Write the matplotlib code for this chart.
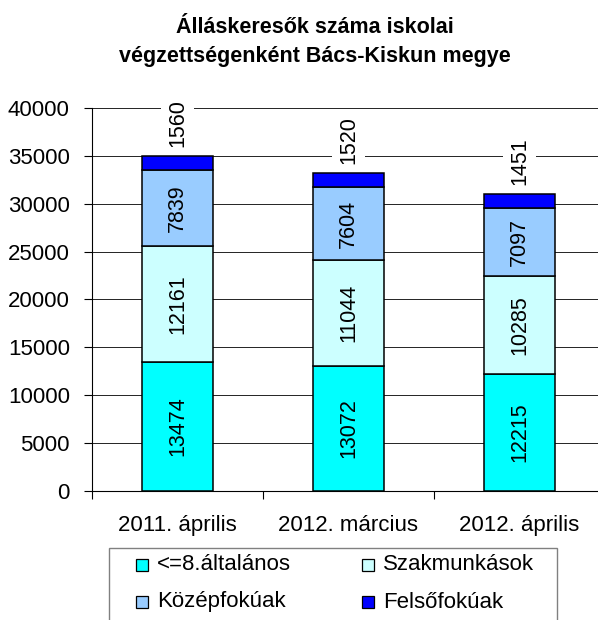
import matplotlib
matplotlib.use("Agg")
import matplotlib.pyplot as plt
from matplotlib.patches import Rectangle
import numpy as np

plt.rcParams['font.family'] = ['Liberation Sans', 'DejaVu Sans']

title_lines = ["Álláskeresők száma iskolai", "végzettségenként Bács-Kiskun megye"]
categories = ["2011. április", "2012. március", "2012. április"]
series_names = ["<=8.általános", "Szakmunkások", "Középfokúak", "Felsőfokúak"]
altalanos = [13474, 13072, 12215]
szakmunkasok = [12161, 11044, 10285]
kozepfokuak = [7839, 7604, 7097]
felsofokuak = [1560, 1520, 1451]
colors = ["#00FFFF", "#CCFFFF", "#99CCFF", "#0000FF"]
yticks = [0, 5000, 10000, 15000, 20000, 25000, 30000, 35000, 40000]

W, H = 598, 620
fig = plt.figure(figsize=(W / 100, H / 100), dpi=100)
ax = fig.add_axes([92 / W, (H - 491) / H, 513 / W, (491 - 108) / H])

x = np.arange(len(categories))
data = [altalanos, szakmunkasok, kozepfokuak, felsofokuak]
bottom = np.zeros(len(categories))
for i, (vals, col) in enumerate(zip(data, colors)):
    vals = np.array(vals, dtype=float)
    ax.bar(x, vals, 0.42, bottom=bottom, color=col, edgecolor="black",
           linewidth=1.1, zorder=3)
    for xi, b, v in zip(x, bottom, vals):
        if i < 3:
            ax.text(xi, b + v / 2, f"{int(v)}", rotation=90, ha="center",
                    va="center", fontsize=15.5, zorder=4)
        else:
            ax.annotate(f"{int(v)}", xy=(xi, b + v), xytext=(0, 6),
                        textcoords="offset points", rotation=90, ha="center",
                        va="bottom", fontsize=15.5, zorder=4,
                        bbox=dict(boxstyle="square,pad=0.3", fc="white", ec="none"))
    bottom += vals

ax.set_xlim(-0.5, 2.5)
ax.set_ylim(0, 40000)
ax.set_yticks(yticks)
ax.set_yticklabels([str(t) for t in yticks], fontsize=16)
ax.set_xticks([-0.5, 0.5, 1.5, 2.5])
ax.set_xticklabels([])
ax.set_xticks(x, minor=True)
ax.set_xticklabels(categories, minor=True, fontsize=16)
ax.tick_params(axis="x", which="minor", length=0, pad=17)
ax.tick_params(axis="x", which="major", length=6, width=0.8, direction="out")
ax.tick_params(axis="y", length=6, width=0.8, direction="out", pad=10)
ax.yaxis.grid(True, color="black", linewidth=0.6, zorder=0)
ax.set_axisbelow(True)
for s in ["top", "right"]:
    ax.spines[s].set_visible(False)
for s in ["left", "bottom"]:
    ax.spines[s].set_linewidth(0.8)
    ax.spines[s].set_color("black")

for line, yb in zip(title_lines, [33, 62]):
    fig.text(315 / W, 1 - yb / H, line, ha="center", va="baseline",
             fontsize=15.5, fontweight="bold")

# legend (manual, row-wise like the reference)
lx0, ly0, lx1, ly1 = 109, 548, 557, 640
fig.patches.append(Rectangle((lx0 / W, 1 - ly1 / H), (lx1 - lx0) / W, (ly1 - ly0) / H,
                             transform=fig.transFigure, fill=False,
                             edgecolor="#808080", linewidth=1.0))
pos = [(136, 565), (362, 565), (136, 602), (362, 602)]
for name, col, (px, py) in zip(series_names, colors, pos):
    s = 12
    fig.patches.append(Rectangle((px / W, 1 - (py + s / 2) / H), s / W, s / H,
                                 transform=fig.transFigure, facecolor=col,
                                 edgecolor="black", linewidth=0.9))
    fig.text((px + s + 9) / W, 1 - py / H, name, ha="left", va="center",
             fontsize=16)

fig.savefig("out.png", dpi=100)
